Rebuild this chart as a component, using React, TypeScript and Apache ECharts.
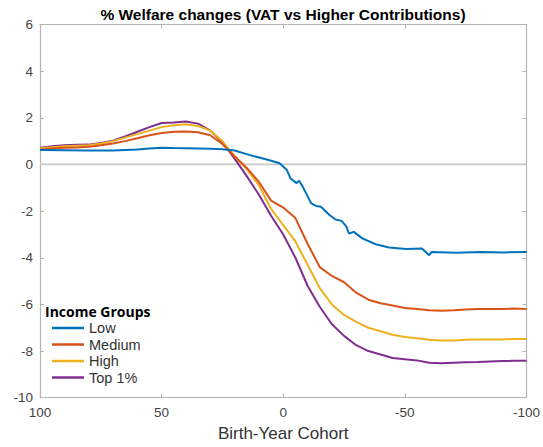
import React, { useEffect, useRef } from "react";
import * as echarts from "echarts";

// Birth-year cohort (x) and % welfare change (y)
const LOW_X = [100, 90, 80, 70, 60, 55, 50, 45, 40, 35, 30, 25, 20, 14, 6, 1.5, -1.5, -3, -5.5, -6.5, -8, -11.5, -13.5, -15.5, -19, -21.5, -24, -26, -27, -29, -32.5, -38, -43.5, -50.5, -57, -60, -61, -71, -81.5, -90, -100];
const LOW_Y = [0.62, 0.61, 0.6, 0.6, 0.64, 0.68, 0.72, 0.7, 0.69, 0.68, 0.67, 0.65, 0.6, 0.41, 0.19, 0.05, -0.24, -0.6, -0.8, -0.7, -0.95, -1.67, -1.78, -1.81, -2.17, -2.36, -2.42, -2.67, -2.96, -2.89, -3.17, -3.42, -3.56, -3.63, -3.6, -3.89, -3.75, -3.79, -3.75, -3.77, -3.75];

const COHORTS = [100, 95, 90, 85, 80, 75, 70, 65, 60, 55, 50, 45, 40, 35, 30, 25, 20, 15, 10, 5, 0, -5, -10, -15, -20, -25, -30, -35, -40, -45, -50, -55, -60, -65, -70, -75, -80, -85, -90, -95, -100];
const MEDIUM = [0.64, 0.68, 0.72, 0.73, 0.76, 0.82, 0.9, 1.0, 1.12, 1.25, 1.35, 1.4, 1.41, 1.38, 1.25, 0.88, 0.35, -0.15, -0.75, -1.55, -1.85, -2.3, -3.4, -4.4, -4.78, -5.05, -5.5, -5.8, -5.95, -6.05, -6.15, -6.2, -6.25, -6.27, -6.25, -6.22, -6.2, -6.2, -6.2, -6.18, -6.2];
const HIGH = [0.7, 0.74, 0.78, 0.8, 0.82, 0.9, 1.0, 1.15, 1.3, 1.45, 1.6, 1.68, 1.72, 1.65, 1.45, 1.0, 0.35, -0.2, -0.9, -1.9, -2.6, -3.3, -4.3, -5.3, -6.0, -6.45, -6.75, -7.0, -7.15, -7.3, -7.4, -7.45, -7.52, -7.55, -7.55, -7.52, -7.5, -7.5, -7.5, -7.48, -7.48];
const TOP1 = [0.72, 0.78, 0.82, 0.84, 0.85, 0.92, 1.02, 1.2, 1.4, 1.6, 1.78, 1.8, 1.84, 1.75, 1.45, 0.95, 0.25, -0.5, -1.3, -2.2, -3.0, -4.0, -5.2, -6.1, -6.85, -7.35, -7.75, -8.0, -8.15, -8.3, -8.35, -8.4, -8.5, -8.52, -8.5, -8.48, -8.47, -8.45, -8.43, -8.42, -8.42];

const GROUPS = ["Low", "Medium", "High", "Top 1%"];
const COLORS = ["#0072BD", "#D95319", "#EDB120", "#7E2F8E"];
const ZERO_X = [100, -100];

const zip = (xs: number[], ys: number[]) => xs.map((x, i) => [x, ys[i]]);

export default function App() {
  const ref = useRef<HTMLDivElement>(null);
  useEffect(() => {
    if (!ref.current) return;
    const chart = echarts.init(ref.current, null, { renderer: "svg" });
    const font = "'Liberation Sans', Arial, Helvetica, sans-serif";
    const axisColor = "#b4b4b4";
    const labelColor = "#444";
    const seriesData = [zip(LOW_X, LOW_Y), zip(COHORTS, MEDIUM), zip(COHORTS, HIGH), zip(COHORTS, TOP1)];
    chart.setOption({
      animation: false,
      backgroundColor: "#fff",
      grid: { left: 40, right: 15.5, top: 24.5, bottom: 49.3, show: false },
      xAxis: [
        {
          type: "value",
          min: -100,
          max: 100,
          interval: 50,
          inverse: true,
          name: "Birth-Year Cohort",
          nameLocation: "middle",
          nameGap: 26,
          nameTextStyle: { fontFamily: font, fontSize: 17, color: "#333" },
          axisLine: { show: true, onZero: false, lineStyle: { color: axisColor, width: 1.2 } },
          axisTick: { show: true, inside: true, length: 4, lineStyle: { color: axisColor } },
          axisLabel: { fontFamily: font, fontSize: 13.5, color: labelColor, margin: 8 },
          splitLine: { show: false },
        },
        {
          type: "value",
          position: "top",
          min: -100,
          max: 100,
          interval: 50,
          inverse: true,
          axisLine: { show: true, onZero: false, lineStyle: { color: axisColor, width: 1.2 } },
          axisTick: { show: true, inside: true, length: 4, lineStyle: { color: axisColor } },
          axisLabel: { show: false },
          splitLine: { show: false },
        },
      ],
      yAxis: [
        {
          type: "value",
          min: -10,
          max: 6,
          interval: 2,
          axisLine: { show: true, onZero: false, lineStyle: { color: axisColor, width: 1.2 } },
          axisTick: { show: true, inside: true, length: 4, lineStyle: { color: axisColor } },
          axisLabel: { fontFamily: font, fontSize: 13.5, color: labelColor, margin: 7 },
          splitLine: { show: false },
        },
        {
          type: "value",
          position: "right",
          min: -10,
          max: 6,
          interval: 2,
          axisLine: { show: true, onZero: false, lineStyle: { color: axisColor, width: 1.2 } },
          axisTick: { show: true, inside: true, length: 4, lineStyle: { color: axisColor } },
          axisLabel: { show: false },
          splitLine: { show: false },
        },
      ],
      legend: {
        data: GROUPS,
        orient: "vertical",
        left: 52,
        top: 320.5,
        padding: 0,
        icon: "rect",
        itemWidth: 32,
        itemHeight: 2.5,
        itemGap: 1.5,
        textStyle: { fontFamily: font, fontSize: 14.5, color: "#333" },
      },
      graphic: [
        {
          type: "text",
          x: 283,
          y: 14,
          style: {
            text: "% Welfare changes (VAT vs Higher Contributions)",
            font: "bold 15.5px 'Liberation Sans', Arial, sans-serif",
            fill: "#000",
            textAlign: "center",
            textVerticalAlign: "middle",
          },
        },
        {
          type: "text",
          x: 45,
          y: 311,
          style: {
            text: "Income Groups",
            font: "bold 14px 'Open Sans', sans-serif",
            fill: "#000",
            textAlign: "left",
            textVerticalAlign: "middle",
            lineHeight: 14,
          },
        },
      ],
      series: [
        {
          name: "zero",
          type: "line",
          data: ZERO_X.map((x) => [x, 0]),
          symbol: "none",
          silent: true,
          lineStyle: { color: "#c8c8c8", width: 1.8 },
          z: 1,
        },
        ...GROUPS.map((g, i) => ({
          name: g,
          type: "line",
          data: seriesData[i],
          symbol: "none",
          smooth: false,
          color: COLORS[i],
          lineStyle: { color: COLORS[i], width: 2 },
          z: 2 + (3 - i),
        })),
      ],
    });
    return () => chart.dispose();
  }, []);
  return <div ref={ref} style={{ width: 543, height: 447, position: "absolute", left: 0, top: 0 }} />;
}
